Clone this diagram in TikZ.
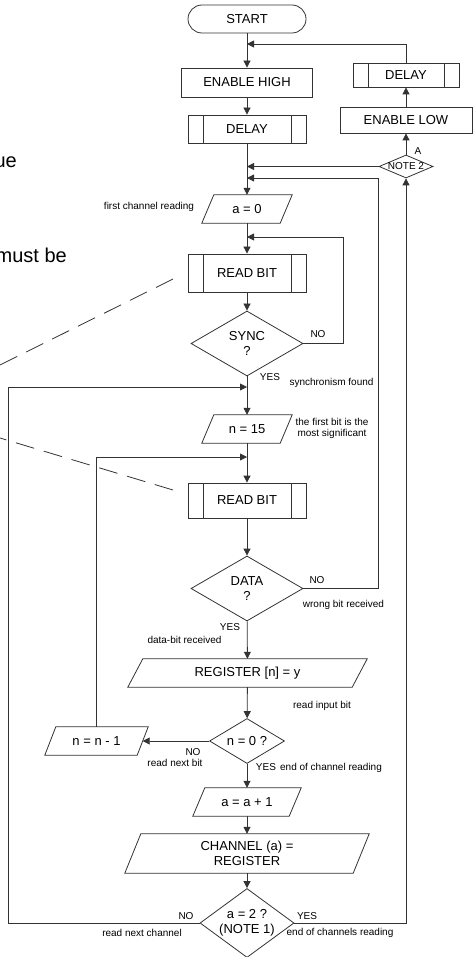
\documentclass[tikz,border=0pt]{standalone}
\usepackage{fontspec}
\setmainfont{Liberation Sans}
\usetikzlibrary{shapes.geometric,arrows.meta}
\newcommand\paradraw[2]{\draw[ln] ([xshift=#2]#1.north west) -- (#1.north east) -- ([xshift=-#2]#1.south east) -- (#1.south west) -- cycle;}
\tikzset{
 ln/.style={draw=black!80, line width=0.8pt},
 arr/.style={ln, -{Triangle[length=7pt,width=7pt]}},
 mainfont/.style={font=\fontsize{13}{15.5}\selectfont, text=black},
 box/.style={ln, rectangle, inner sep=0pt, mainfont, align=center},
 subbox/.style={box, path picture={\draw[ln] ([xshift=15pt]path picture bounding box.north west) -- ([xshift=15pt]path picture bounding box.south west) ([xshift=-15pt]path picture bounding box.north east) -- ([xshift=-15pt]path picture bounding box.south east);}},
 para/.style={rectangle, inner sep=0pt, mainfont, align=center},
 dia/.style={ln, diamond, inner sep=0pt},
 dtext/.style={mainfont, align=center, inner sep=0pt},
 small/.style={font=\fontsize{10}{11}\selectfont, inner sep=0pt, align=center, text=black},
 big/.style={font=\fontsize{20}{24}\selectfont, inner sep=0pt, text=black},
 callout/.style={ln, dash pattern=on 19pt off 10pt},
}
\begin{document}
\begin{tikzpicture}[x=1pt,y=-1pt]
\useasboundingbox (0,0) rectangle (473,957);
% cropped text fragments
\node[big, anchor=base east] (ue) at (17,168) {ue};
\node[big, anchor=base east] (mb) at (67,263) {must be};
% main nodes
\node[box, rounded corners=14pt, minimum width=118pt, minimum height=28pt] (start) at (247,19) {START};
\node[box, minimum width=131pt, minimum height=29pt] (eh) at (247,82.5) {ENABLE HIGH};
\node[subbox, minimum width=118pt, minimum height=28pt] (d1) at (247,129) {DELAY};
\node[subbox, minimum width=106pt, minimum height=24pt] (d2) at (406,75) {DELAY};
\node[box, minimum width=132pt, minimum height=26pt] (el) at (406,120) {ENABLE LOW};
\node[dia, minimum width=54pt, minimum height=23pt, label={[small]center:NOTE 2}] (note2) at (406,166.5) {};
\node[para, minimum width=90pt, minimum height=28pt] (a0) at (247,209) {a = 0};
\paradraw{a0}{12pt}
\node[subbox, minimum width=118pt, minimum height=38pt] (rb1) at (247,273) {READ BIT};
\node[dia, minimum width=112pt, minimum height=65pt, label={[dtext]center:SYNC\\?}] (sync) at (247,343.5) {};
\node[para, minimum width=90pt, minimum height=28pt] (n15) at (247,429) {n = 15};
\paradraw{n15}{12pt}
\node[subbox, minimum width=118pt, minimum height=35pt] (rb2) at (247,500.5) {READ BIT};
\node[dia, minimum width=112pt, minimum height=65pt, label={[dtext]center:DATA\\?}] (data) at (247,588.5) {};
\node[para, minimum width=239pt, minimum height=28pt] (reg) at (247.5,673) {REGISTER [n] = y};
\paradraw{reg}{15pt}
\node[dia, minimum width=75pt, minimum height=45pt, label={[dtext]center:n = 0 ?}] (n0) at (247,741) {};
\node[para, minimum width=103pt, minimum height=28pt] (nm1) at (96.5,741) {n = n - 1};
\paradraw{nm1}{11pt}
\node[para, minimum width=108pt, minimum height=28pt] (aa1) at (247,802) {a = a + 1};
\paradraw{aa1}{12pt}
\node[para, minimum width=244pt, minimum height=39pt] (ch) at (247,853.5) {CHANNEL (a) =\\REGISTER};
\paradraw{ch}{16pt}
\node[dia, minimum width=94pt, minimum height=69pt, label={[dtext]center:a = 2 ?\\(NOTE 1)}] (a2) at (247,923) {};
% junction coordinates
\coordinate (j1) at (247,44);
\coordinate (j2) at (247,166.5);
\coordinate (k3) at (378,178);
\coordinate (j3) at (247,178);
\coordinate (k1) at (343,237);
\coordinate (j4) at (247,237);
\coordinate (k5) at (8,387);
\coordinate (j5) at (247,387);
\coordinate (j6) at (247,457);
\coordinate (nm1r) at ([xshift=-5.5pt]nm1.east);
\coordinate (c1a) at (173,279);
\coordinate (c1b) at (0,365);
\coordinate (c2a) at (173,490);
\coordinate (c2b) at (0,438);
% connectors
\draw[arr] (start) -- (eh);
\draw[arr] (d2.north) |- (j1);
\draw[arr] (eh) -- (d1);
\draw[arr] (d1) -- (a0);
\draw[arr] (note2.west) -- (j2);
\draw[arr] (data.east) -| (k3) -- (j3);
\draw[arr] (note2) -- (el);
\draw[arr] (el) -- (d2);
\draw[arr] (a2.east) -| (note2.south);
\draw[arr] (a0) -- (rb1);
\draw[arr] (rb1) -- (sync);
\draw[arr] (sync.east) -| (k1) -- (j4);
\draw[arr] (sync) -- (n15);
\draw[arr] (a2.west) -| (k5) -- (j5);
\draw[arr] (n15) -- (rb2);
\draw[arr] (nm1.north) |- (j6);
\draw[arr] (rb2) -- (data);
\draw[arr] (data) -- (reg);
\draw[arr] (reg) -- (n0);
\draw[arr] (n0.west) -- (nm1r);
\draw[arr] (n0) -- (aa1);
\draw[arr] (aa1) -- (ch);
\draw[arr] (ch) -- (a2);
% callout dashed lines
\draw[callout] (c1a) -- (c1b);
\draw[callout] (c2a) -- (c2b);
% labels
\node[small] (lA) at (418,151) {A};
\node[small] (lfcr) at (149,207) {first channel reading};
\node[small] (lsno) at (318,334) {NO};
\node[small] (lsyes) at (270,377) {YES};
\node[small] (lsf) at (331.5,383) {synchronism found};
\node[small] (lfb) at (332,428.5) {the first bit is the\\most significant};
\node[small] (ldno) at (317,580) {NO};
\node[small] (lwb) at (343.5,605) {wrong bit received};
\node[small] (ldyes) at (230,627) {YES};
\node[small] (ldbr) at (184.5,640) {data-bit received};
\node[small] (lrib) at (322,706) {read input bit};
\node[small] (lnno) at (193,752) {NO};
\node[small] (lrnb) at (175,763) {read next bit};
\node[small] (lnyes) at (266,767) {YES};
\node[small] (lecr) at (331,768) {end of channel reading};
\node[small] (lano) at (186,916) {NO};
\node[small] (lrnc) at (142,933) {read next channel};
\node[small] (layes) at (307,916) {YES};
\node[small] (lecsr) at (340,933) {end of channels reading};
\end{tikzpicture}
\end{document}
